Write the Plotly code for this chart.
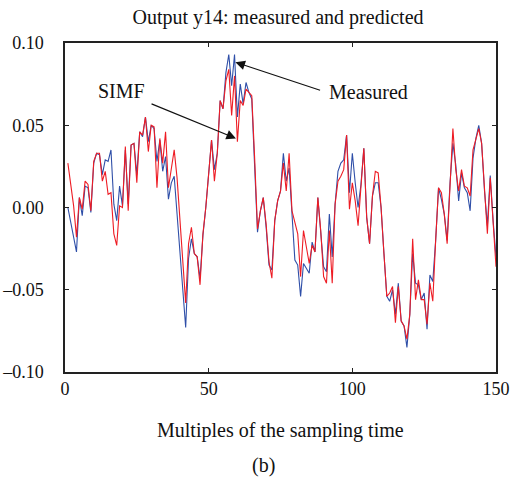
import plotly.graph_objects as go

# sample index (multiples of the sampling time)
samples = list(range(1, 151))

measured = [
    0.000, -0.008, -0.018, -0.027, 0.006, -0.005, 0.013, 0.012, -0.003, 0.027,
    0.033, 0.032, 0.020, 0.029, 0.028, 0.035, 0.002, -0.008, 0.013, 0.001,
    0.035, 0.002, 0.038, 0.039, 0.020, 0.046, 0.043, 0.055, 0.040, 0.050,
    0.048, 0.028, 0.041, 0.022, 0.031, 0.005, 0.015, 0.019, -0.005, -0.030,
    -0.052, -0.073, -0.031, -0.019, -0.028, -0.030, -0.043, -0.017, 0.000, 0.022,
    0.041, 0.023, 0.033, 0.065, 0.060, 0.082, 0.093, 0.074, 0.093, 0.055,
    0.075, 0.063, 0.076, 0.070, 0.066, 0.025, -0.015, -0.002, 0.006, -0.012,
    -0.035, -0.038, -0.008, 0.004, 0.010, 0.033, 0.016, 0.024, -0.002, -0.032,
    -0.035, -0.054, -0.034, -0.037, -0.040, -0.021, -0.027, 0.006, -0.014, -0.036,
    -0.039, -0.004, -0.030, 0.002, 0.022, 0.027, 0.029, 0.044, 0.009, 0.033,
    0.015, 0.000, 0.014, 0.036, -0.006, -0.022, 0.007, 0.015, 0.015, 0.000,
    -0.028, -0.054, -0.057, -0.050, -0.065, -0.046, -0.069, -0.072, -0.085, -0.065,
    -0.028, -0.046, -0.047, -0.056, -0.052, -0.074, -0.041, -0.045, -0.020, 0.012,
    0.005, -0.004, -0.020, 0.015, 0.039, 0.026, 0.004, 0.021, 0.012, 0.009,
    -0.002, 0.030, 0.042, 0.050, 0.039, 0.010, -0.011, 0.0195, -0.008, -0.030,
]

simf = [
    0.027, 0.014, 0.001, -0.018, 0.006, -0.001, 0.016, 0.014, -0.002, 0.028,
    0.033, 0.033, 0.016, 0.022, 0.008, 0.009, -0.016, -0.023, 0.001, 0.000,
    0.037, -0.002, 0.038, 0.039, 0.015, 0.046, 0.044, 0.055, 0.034, 0.050,
    0.049, 0.012, 0.042, 0.027, 0.046, 0.012, 0.025, 0.035, 0.018, -0.008,
    -0.033, -0.058, -0.022, -0.012, -0.028, -0.030, -0.047, -0.016, 0.000, 0.020,
    0.041, 0.016, 0.033, 0.065, 0.060, 0.077, 0.084, 0.056, 0.080, 0.040,
    0.065, 0.062, 0.072, 0.070, 0.068, 0.030, -0.013, -0.002, 0.006, -0.010,
    -0.033, -0.043, -0.008, 0.004, 0.010, 0.027, 0.010, 0.033, -0.002, -0.009,
    -0.016, -0.042, -0.014, -0.024, -0.034, -0.023, -0.027, 0.006, -0.014, -0.042,
    -0.046, -0.014, -0.046, 0.002, 0.016, 0.019, 0.023, 0.044, -0.001, 0.015,
    0.004, -0.011, 0.014, 0.036, -0.006, -0.022, 0.007, 0.022, 0.021, 0.000,
    -0.028, -0.054, -0.052, -0.048, -0.070, -0.048, -0.069, -0.072, -0.080, -0.065,
    -0.019, -0.056, -0.044, -0.056, -0.056, -0.071, -0.046, -0.057, -0.020, 0.012,
    0.009, -0.004, -0.022, 0.015, 0.048, 0.023, 0.010, 0.023, 0.013, 0.012,
    0.007, 0.035, 0.042, 0.048, 0.039, 0.010, -0.016, 0.018, -0.008, -0.036,
]

x_ticks = [0, 50, 100, 150]
x_ticktext = ["0", "50", "100", "150"]
y_ticks = [-0.10, -0.05, 0.00, 0.05, 0.10]
y_ticktext = ["\u20130.10", "\u20130.05", "0.00", "0.05", "0.10"]

FONT = "Liberation Serif, Times New Roman, serif"
AX = "#222222"
TXT = "#111111"

W, H = 511, 480
ML, MT, PW, PH = 65, 43, 431, 329

fig = go.Figure()
fig.add_trace(go.Scatter(x=samples, y=measured, mode="lines", name="Measured",
                         line=dict(color="#2f4fa8", width=1.1)))
fig.add_trace(go.Scatter(x=samples, y=simf, mode="lines", name="SIMF",
                         line=dict(color="#ee1c24", width=1.1)))

axis_common = dict(showline=True, linecolor=AX, linewidth=1.5, mirror="ticks",
                   ticks="inside", ticklen=4, tickcolor=AX, tickwidth=1,
                   showgrid=False, zeroline=False, automargin=False,
                   tickfont=dict(family=FONT, size=18, color=TXT))

fig.update_layout(
    width=W, height=H,
    margin=dict(l=ML, r=W - ML - PW, t=MT, b=H - MT - PH),
    paper_bgcolor="white", plot_bgcolor="white",
    showlegend=False,
    font=dict(family=FONT, color=TXT),
    title=dict(text="Output y14: measured and predicted", x=278 / W, xanchor="center",
               y=1 - 17 / H, yanchor="middle",
               font=dict(family=FONT, size=20, color=TXT)),
    xaxis=dict(range=[0, 150], tickvals=x_ticks, ticktext=x_ticktext, **axis_common),
    yaxis=dict(range=[-0.10, 0.10], tickvals=y_ticks, ticktext=y_ticktext,
               ticklabelstandoff=16, **axis_common),
)

# axis label and caption
fig.add_annotation(text="Multiples of the sampling time", xref="paper", yref="paper",
                   x=0.5, y=(372 - 430) / PH, xanchor="center", yanchor="middle",
                   showarrow=False, font=dict(family=FONT, size=20, color=TXT))
fig.add_annotation(text="(b)", xref="paper", yref="paper",
                   x=0.46, y=(372 - 466) / PH, xanchor="center", yanchor="middle",
                   showarrow=False, font=dict(family=FONT, size=20, color=TXT))

# callouts
fig.add_annotation(text="SIMF", x=19.5, y=0.071, xref="x", yref="y",
                   showarrow=False, font=dict(family=FONT, size=20, color=TXT))
fig.add_annotation(text="", x=59.5, y=0.042, ax=29.6, ay=0.0634,
                   xref="x", yref="y", axref="x", ayref="y",
                   showarrow=True, arrowhead=2, arrowsize=1.6, arrowwidth=1.2,
                   arrowcolor=TXT)
fig.add_annotation(text="Measured", x=105.5, y=0.0705, xref="x", yref="y",
                   showarrow=False, font=dict(family=FONT, size=20, color=TXT))
fig.add_annotation(text="", x=59.3, y=0.0883, ax=89.3, ay=0.071,
                   xref="x", yref="y", axref="x", ayref="y",
                   showarrow=True, arrowhead=2, arrowsize=1.6, arrowwidth=1.2,
                   arrowcolor=TXT)

fig.write_html(
    "out.html",
    config={"displayModeBar": False},
    post_script="document.body.style.margin='0';document.body.style.overflow='hidden';",
)
